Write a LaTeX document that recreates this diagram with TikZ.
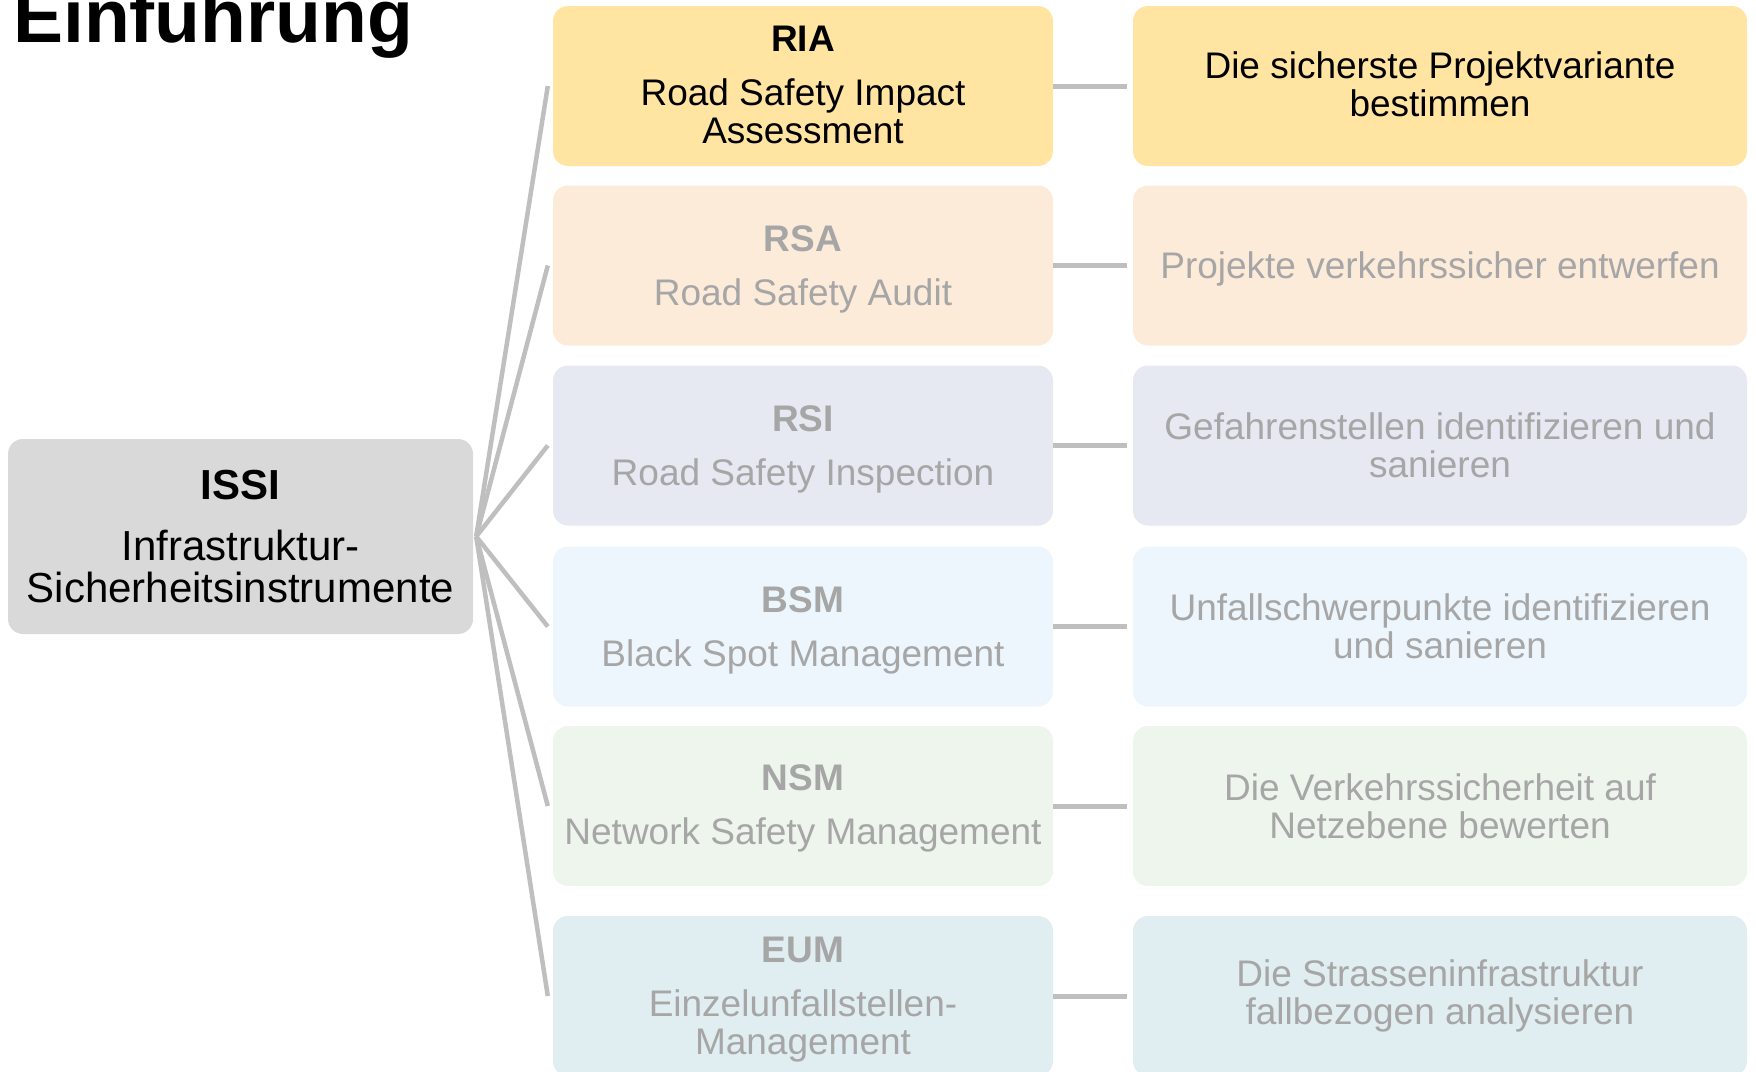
\documentclass[tikz,border=0pt]{standalone}
\usepackage{fontspec}
\setmainfont{Liberation Sans}
\definecolor{linegray}{HTML}{BFBFBF}
\definecolor{txtgray}{HTML}{A6A6A6}
\definecolor{cRIA}{HTML}{FFE5A1}
\definecolor{cRSA}{HTML}{FDEBDA}
\definecolor{cRSI}{HTML}{E6E8F2}
\definecolor{cBSM}{HTML}{ECF6FC}
\definecolor{cNSM}{HTML}{EDF5ED}
\definecolor{cEUM}{HTML}{E0EDF1}
\definecolor{cISSI}{HTML}{D9D9D9}
\newcommand{\upstrut}[1]{\rule{0pt}{#1}}
\newcommand{\dnstrut}[1]{\rule[-#1]{0pt}{0pt}}
\begin{document}
\begin{tikzpicture}[x=1pt,y=-1pt,
  box/.style={rounded corners=15pt, minimum width=500pt, minimum height=160pt,
    align=center, inner sep=0pt, font=\fontsize{37}{38}\selectfont},
  rbox/.style={box, minimum width=614pt},
  dim/.style={text=txtgray},
  radial/.style={draw=linegray, line width=4.5pt},
  hlink/.style={draw=linegray, line width=5pt},
  ]
\useasboundingbox (0,0) rectangle (1756,1071);

\node[anchor=base west, inner sep=0pt, font=\fontsize{75}{80}\selectfont\bfseries] (title) at (13,42) {Einführung};

\node[rounded corners=15pt, fill=cISSI, minimum width=465pt, minimum height=195pt,
  align=center, inner sep=0pt, font=\fontsize{42}{42}\selectfont] (issi) at (240.5,536.5)
  {\textbf{ISSI}\\[19pt]Infrastruktur-\\Sicherheitsinstrumente};

% left column
\node[box, fill=cRIA] (ria) at (803,86) {\textbf{RIA}\\[16pt]Road Safety Impact\\Assessment\dnstrut{3pt}};
\node[box, fill=cRSA, dim] (rsa) at (803,265.5) {\upstrut{33pt}\textbf{RSA}\\[16pt]Road Safety Audit};
\node[box, fill=cRSI, dim] (rsi) at (803,445.5) {\upstrut{33pt}\textbf{RSI}\\[16pt]Road Safety Inspection};
\node[box, fill=cBSM, dim] (bsm) at (803,626.5) {\upstrut{33pt}\textbf{BSM}\\[16pt]Black Spot Management};
\node[box, fill=cNSM, dim] (nsm) at (803,806) {\upstrut{31pt}\textbf{NSM}\\[16pt]Network Safety Management};
\node[box, fill=cEUM, dim] (eum) at (803,996) {\upstrut{32pt}\textbf{EUM}\\[16pt]Einzelunfallstellen-\\Management};

% right column
\node[rbox, fill=cRIA] (riaR) at (1440,86) {Die sicherste Projektvariante\\bestimmen\dnstrut{4pt}};
\node[rbox, fill=cRSA, dim] (rsaR) at (1440,265.5) {\upstrut{34pt}Projekte verkehrssicher entwerfen};
\node[rbox, fill=cRSI, dim] (rsiR) at (1440,445.5) {Gefahrenstellen identifizieren und\\sanieren};
\node[rbox, fill=cBSM, dim] (bsmR) at (1440,626.5) {Unfallschwerpunkte identifizieren\\und sanieren};
\node[rbox, fill=cNSM, dim] (nsmR) at (1440,806) {Die Verkehrssicherheit auf\\Netzebene bewerten};
\node[rbox, fill=cEUM, dim] (eumR) at (1440,996) {Die Strasseninfrastruktur\\fallbezogen analysieren};

% radial connectors
\coordinate (hub) at ([xshift=3pt]issi.east);
\foreach \n in {ria,rsa,rsi,bsm,nsm,eum}
  \draw[radial] (hub) -- ([xshift=-5pt]\n.west);

% horizontal connectors
\foreach \n in {ria,rsa,rsi,bsm,nsm,eum}
  \draw[hlink] (\n.east) -- ([xshift=-6pt]\n R.west);
\end{tikzpicture}
\end{document}
